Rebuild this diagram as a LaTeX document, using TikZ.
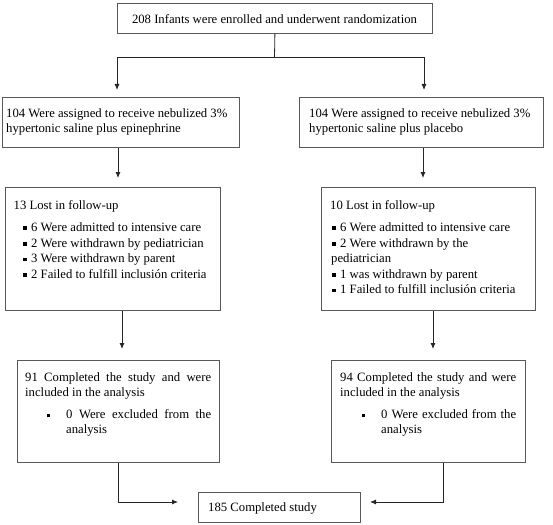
\documentclass[tikz,border=0pt]{standalone}
\usepackage{fontspec}
\setmainfont{Liberation Serif}
\usetikzlibrary{arrows.meta}
\newcommand{\fsz}{\fontsize{12.7pt}{15.3pt}\selectfont}
\newcommand{\bul}{\rule[1.2pt]{3.6pt}{3.6pt}}
\newcommand{\bt}{\bul\hspace{4.4pt}}
\begin{document}
\begin{tikzpicture}[x=1pt,y=-1pt,
  box/.style={draw=black!65, line width=0.8pt, anchor=north west, inner sep=0pt},
  txt/.style={anchor=base west, inner sep=0pt, font=\fsz},
  link/.style={draw=black!85, line width=0.8pt},
  arr/.style={link, -{Latex[length=6pt,width=5pt]}}]
\useasboundingbox[fill=white] (0,0) rectangle (553,524);

% boxes
\node[box, minimum width=315pt, minimum height=30pt] (top) at (117,3) {};
\node[box, minimum width=237pt, minimum height=50pt] (b2l) at (2,97) {};
\node[box, minimum width=244pt, minimum height=50pt] (b2r) at (299,97) {};
\node[box, minimum width=215pt, minimum height=123pt] (b3l) at (5,187) {};
\node[box, minimum width=214pt, minimum height=123pt] (b3r) at (321,187) {};
\node[box, minimum width=202pt, minimum height=102pt] (b4l) at (17,360) {};
\node[box, minimum width=194pt, minimum height=102pt] (b4r) at (331,360) {};
\node[box, minimum width=162pt, minimum height=30pt] (b5) at (198,492) {};

% texts
\node[txt, anchor=base] (ttop) at (274.5,23.5) {208 Infants were enrolled and underwent randomization};

\node[txt] (t2l1) at (6,117.5) {104 Were assigned to receive nebulized 3\%};
\node[txt] (t2l2) at (6,132.8) {hypertonic saline plus epinephrine};
\node[txt] (t2r1) at (309,117.5) {104 Were assigned to receive nebulized 3\%};
\node[txt] (t2r2) at (309,132.8) {hypertonic saline plus placebo};

\node[txt] (t3l0) at (13.5,209) {13 Lost in follow-up};
\node[txt] (t3l1) at (23,231) {\bt 6 Were admitted to intensive care};
\node[txt] (t3l2) at (23,247) {\bt 2 Were withdrawn by pediatrician};
\node[txt] (t3l3) at (23,262.5) {\bt 3 Were withdrawn by parent};
\node[txt] (t3l4) at (23,278) {\bt 2 Failed to fulfill inclusión criteria};

\node[txt] (t3r0) at (330,209) {10 Lost in follow-up};
\node[txt] (t3r1) at (332,231) {\bt 6 Were admitted to intensive care};
\node[txt] (t3r2) at (332,247) {\bt 2 Were withdrawn by the};
\node[txt] (t3r3) at (331,262.5) {pediatrician};
\node[txt] (t3r4) at (332,278) {\bt 1 was withdrawn by parent};
\node[txt] (t3r5) at (332,293.5) {\bt 1 Failed to fulfill inclusión criteria};

\node[txt] (t4l1) at (25,381.5) {\makebox[186pt][s]{91 Completed the study and were}};
\node[txt] (t4l2) at (25,396) {included in the analysis};
\node[txt] (t4lb) at (46.5,418.5) {\bul};
\node[txt] (t4l3) at (66,418.5) {\makebox[145pt][s]{0 Were excluded from the}};
\node[txt] (t4l4) at (66,433.5) {analysis};

\node[txt] (t4r1) at (340,381.5) {\makebox[176pt][s]{94 Completed the study and were}};
\node[txt] (t4r2) at (340,396) {included in the analysis};
\node[txt] (t4rb) at (361.5,418.5) {\bul};
\node[txt] (t4r3) at (381,418.5) {\makebox[135pt][s]{0 Were excluded from the}};
\node[txt] (t4r4) at (381,433.5) {analysis};

\node[txt] (t5) at (208,511.5) {185 Completed study};

% connectors
\coordinate (split) at (274.5,57);
\coordinate (a12l) at (117,90);
\coordinate (a12r) at (424,90);
\draw[link] (top.south) -- (split);
\draw[arr] (split) -| (a12l);
\draw[arr] (split) -| (a12r);

\coordinate (a23l) at (118,178);
\coordinate (a23r) at (423,178);
\draw[arr] (a23l |- b2l.south) -- (a23l);
\draw[arr] (a23r |- b2r.south) -- (a23r);

\coordinate (a34l) at (122,349);
\coordinate (a34r) at (433,349);
\draw[arr] (a34l |- b3l.south) -- (a34l);
\draw[arr] (a34r |- b3r.south) -- (a34r);

\coordinate (c5l) at (118,502);
\coordinate (a5l) at (178,502);
\coordinate (c5r) at (443,502);
\coordinate (a5r) at (370,502);
\draw[arr] (c5l |- b4l.south) -- (c5l) -- (a5l);
\draw[arr] (c5r |- b4r.south) -- (c5r) -- (a5r);
\end{tikzpicture}
\end{document}
